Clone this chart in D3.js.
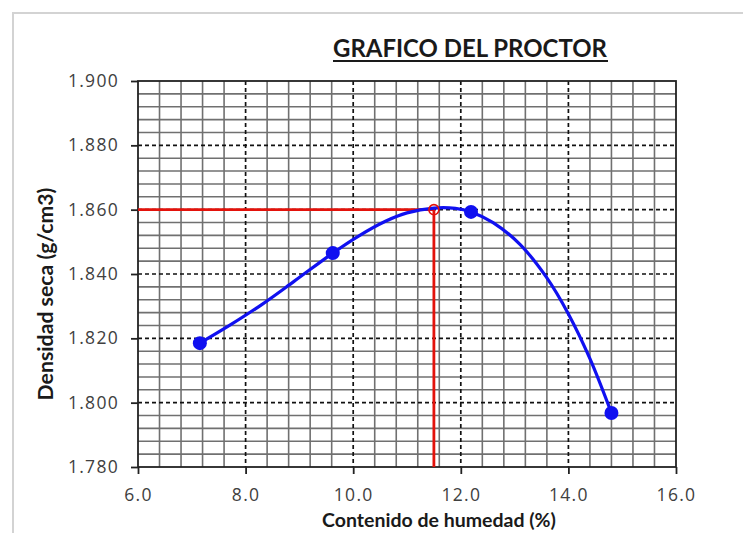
<!DOCTYPE html>
<html><head><meta charset="utf-8">
<script src="https://cdn.jsdelivr.net/npm/d3@7/dist/d3.min.js"></script>
<style>body{margin:0;background:#fff}svg{display:block}</style>
</head><body><svg id="c" width="743" height="533"></svg>
<script>
const chartTitle = "GRAFICO DEL PROCTOR";
const xTitle = "Contenido de humedad (%)";
const yTitle = "Densidad seca (g/cm3)";
// measured points
const humedad = [7.15, 9.62, 12.19, 14.80];
const densidad = [1.8185, 1.8465, 1.8593, 1.7968];
// smooth curve
const curvaX = [7.15, 7.7, 8.3, 8.9, 9.62, 10.1, 10.6, 11.0, 11.5, 11.9, 12.19, 12.6, 13.1, 13.6, 14.0, 14.4, 14.8];
const curvaY = [1.8185, 1.8240, 1.8305, 1.8377, 1.8465, 1.8518, 1.8564, 1.8590, 1.8605, 1.8604, 1.8593, 1.8560, 1.8492, 1.8388, 1.8276, 1.8137, 1.7968];
// optimum
const optHumedad = 11.5;
const optDensidad = 1.860;
const xTicks = [6, 8, 10, 12, 14, 16];
const yTicks = [1.78, 1.80, 1.82, 1.84, 1.86, 1.88, 1.90];

const svg = d3.select("#c");
const L = 138, R = 676, T = 81, B = 467;
const x = d3.scaleLinear().domain([6, 16]).range([L, R]);
const y = d3.scaleLinear().domain([1.78, 1.90]).range([B, T]);

// outer light frame
svg.append("path").attr("d", `M13,533 V13 H743`).attr("fill", "none")
  .attr("stroke", "#d3d3d3").attr("stroke-width", 2);

// minor grid
const minorX = d3.range(6, 16.0001, 0.4).filter(v => Math.abs(v/2 - Math.round(v/2)) > 1e-6);
const minorY = d3.range(1.78, 1.9001, 0.004).filter(v => Math.abs(v/0.02 - Math.round(v/0.02)) > 1e-6);
const g = svg.append("g");
g.selectAll(".mx").data(minorX).join("line")
  .attr("x1", d => x(d)).attr("x2", d => x(d)).attr("y1", T).attr("y2", B)
  .attr("stroke", "#707070").attr("stroke-width", 1.6);
g.selectAll(".my").data(minorY).join("line")
  .attr("y1", d => y(d)).attr("y2", d => y(d)).attr("x1", L).attr("x2", R)
  .attr("stroke", "#707070").attr("stroke-width", 1.6);
// major dashed grid
g.selectAll(".Mx").data(xTicks.slice(1, -1)).join("line")
  .attr("x1", d => x(d)).attr("x2", d => x(d)).attr("y1", T).attr("y2", B)
  .attr("stroke", "#111").attr("stroke-width", 1.7).attr("stroke-dasharray", "4,3");
g.selectAll(".My").data(yTicks.slice(1, -1)).join("line")
  .attr("y1", d => y(d)).attr("y2", d => y(d)).attr("x1", L).attr("x2", R)
  .attr("stroke", "#111").attr("stroke-width", 1.7).attr("stroke-dasharray", "4,3");

// frame
svg.append("rect").attr("x", L).attr("y", T).attr("width", R - L).attr("height", B - T)
  .attr("fill", "none").attr("stroke", "#222").attr("stroke-width", 1.8);

// axes
const fontTick = "'Open Sans', sans-serif";
const xAxis = svg.append("g").attr("transform", `translate(0,${B})`)
  .call(d3.axisBottom(x).tickValues(xTicks).tickSize(7).tickPadding(11).tickFormat(d3.format(".1f")));
const yAxis = svg.append("g").attr("transform", `translate(${L},0)`)
  .call(d3.axisLeft(y).tickValues(yTicks).tickSize(7).tickPadding(12).tickFormat(d3.format(".3f")));
[xAxis, yAxis].forEach(a => {
  a.select(".domain").remove();
  a.selectAll(".tick line").attr("stroke", "#222").attr("stroke-width", 1.8);
  a.selectAll("text").attr("fill", "#404040").style("font-family", fontTick)
    .style("font-size", "17.5px").style("letter-spacing", "1.3px");
});
xAxis.selectAll("text").attr("dy", "0.9em");

// red optimum lines
svg.append("path")
  .attr("d", `M${x(6)},${y(optDensidad)} H${x(optHumedad)} V${y(1.78)}`)
  .attr("fill", "none").attr("stroke", "#e3120b").attr("stroke-width", 2.8);

// curve
const pts = curvaX.map((v, i) => [v, curvaY[i]]);
svg.append("path").datum(pts)
  .attr("d", d3.line().x(d => x(d[0])).y(d => y(d[1])).curve(d3.curveCatmullRom.alpha(0.5)))
  .attr("fill", "none").attr("stroke", "#1010f0").attr("stroke-width", 3.2);

// optimum circle
svg.append("circle").attr("cx", x(optHumedad)).attr("cy", y(optDensidad)).attr("r", 5)
  .attr("fill", "none").attr("stroke", "#e3120b").attr("stroke-width", 1.6);

// points
svg.selectAll(".pt").data(humedad).join("circle")
  .attr("cx", d => x(d)).attr("cy", (d, i) => y(densidad[i])).attr("r", 7)
  .attr("fill", "#1010f0");

// titles
function fit(sel, target) {
  const w = sel.node().getComputedTextLength();
  const fs = parseFloat(sel.style("font-size"));
  sel.style("font-size", (fs * target / w) + "px");
}
const t = svg.append("text").attr("x", 470).attr("y", 57).attr("text-anchor", "middle")
  .style("font-family", "Lato, sans-serif").style("font-weight", "bold").style("font-size", "24px")
  .attr("fill", "#1a1a1a").text(chartTitle);
fit(t, 274);
svg.append("line").attr("x1", 333).attr("x2", 608).attr("y1", 61).attr("y2", 61)
  .attr("stroke", "#1a1a1a").attr("stroke-width", 2);

const xt = svg.append("text").attr("x", 439).attr("y", 527).attr("text-anchor", "middle")
  .style("font-family", "Lato, sans-serif").style("font-weight", "bold").style("font-size", "18px")
  .attr("fill", "#1a1a1a").text(xTitle);
fit(xt, 234);
const yt = svg.append("text").attr("transform", `translate(53,294) rotate(-90)`).attr("text-anchor", "middle")
  .style("font-family", "Lato, sans-serif").style("font-weight", "bold").style("font-size", "18px")
  .attr("fill", "#1a1a1a").text(yTitle);
fit(yt, 213);
</script></body></html>
